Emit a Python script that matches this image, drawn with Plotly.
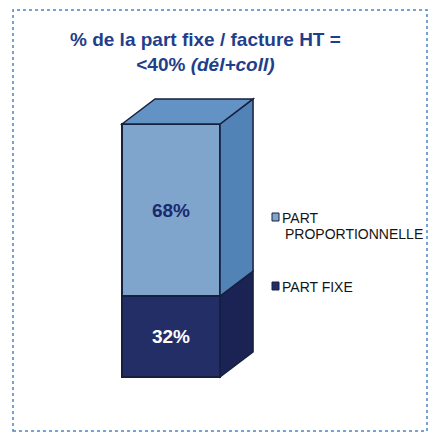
import plotly.graph_objects as go

# ---- data ----
categories = ["PART FIXE", "PART PROPORTIONNELLE"]
values = [32, 68]
front_colors = ["#232d66", "#7fa5cd"]
side_colors = ["#1a2354", "#5283b6"]
top_color = "#6393c4"
label_colors = ["#ffffff", "#1b2a6e"]
outline = "#16203f"

W, H = 428, 438
# axis ranges (bar at x=0, width 1)
x_range = [-1.745, 2.622]
y_range = [-24.1, 149.0]
depth_x = 0.337   # 3D depth in x units
depth_y = 9.9     # 3D depth in y units

fig = go.Figure()
for name, v, fc, lc in zip(categories, values, front_colors, label_colors):
    fig.add_trace(go.Bar(
        x=[0], y=[v], name=name, width=1,
        marker=dict(color=fc, line=dict(color=outline, width=1.5)),
        texttemplate="<b>%{y}%</b>", textposition="inside",
        insidetextanchor="middle", constraintext="none",
        textfont=dict(family="Liberation Sans, Arial", size=19, color=lc),
        showlegend=False, hoverinfo="skip",
    ))

shapes = []
base = 0
for v, sc in zip(values, side_colors):
    top = base + v
    path = (f"M 0.5,{base} L {0.5+depth_x},{base+depth_y} "
            f"L {0.5+depth_x},{top+depth_y} L 0.5,{top} Z")
    shapes.append(dict(type="path", xref="x", yref="y", path=path,
                       fillcolor=sc, line=dict(color=outline, width=1.5),
                       layer="above"))
    base = top
total = base
path = (f"M -0.5,{total} L {-0.5+depth_x},{total+depth_y} "
        f"L {0.5+depth_x},{total+depth_y} L 0.5,{total} Z")
shapes.append(dict(type="path", xref="x", yref="y", path=path,
                   fillcolor=top_color, line=dict(color=outline, width=1.5),
                   layer="above"))

# frame (dashed blue border)
shapes.append(dict(type="rect", xref="paper", yref="paper",
                   x0=13/W, x1=427/W, y0=1-431/H, y1=1-10/H,
                   line=dict(color="#4a84c6", width=1.5, dash="dot"),
                   fillcolor="rgba(0,0,0,0)", layer="above"))

# legend squares
leg_sq = [(272, 213, front_colors[1]), (272, 282, front_colors[0])]
for x0, y0, c in leg_sq:
    shapes.append(dict(type="rect", xref="paper", yref="paper",
                       x0=x0/W, x1=(x0+7)/W, y0=1-(y0+8)/H, y1=1-y0/H,
                       fillcolor=c, line=dict(color="#1a2040", width=1),
                       layer="above"))

leg_font = dict(family="Liberation Sans, Arial", size=14, color="#141414")
annotations = [
    dict(text="<b>% de la part fixe / facture HT =<br>&lt;40% <i>(dél+coll)</i></b>",
         xref="paper", yref="paper", x=205/W, y=1-52/H,
         xanchor="center", yanchor="middle", showarrow=False,
         font=dict(family="Liberation Sans, Arial", size=19, color="#1f3f8c")),
    dict(text="PART", xref="paper", yref="paper", x=280/W, y=1-218/H,
         xanchor="left", yanchor="middle", showarrow=False, font=leg_font),
    dict(text="PROPORTIONNELLE", xref="paper", yref="paper", x=283/W, y=1-233.5/H,
         xanchor="left", yanchor="middle", showarrow=False, font=leg_font),
    dict(text="PART FIXE", xref="paper", yref="paper", x=280/W, y=1-286.5/H,
         xanchor="left", yanchor="middle", showarrow=False, font=leg_font),
]

fig.update_layout(
    width=W, height=H, barmode="stack",
    margin=dict(l=0, r=0, t=0, b=0),
    paper_bgcolor="white", plot_bgcolor="white",
    xaxis=dict(range=x_range, visible=False, fixedrange=True),
    yaxis=dict(range=y_range, visible=False, fixedrange=True),
    shapes=shapes, annotations=annotations,
    showlegend=False,
)
fig.write_html("out.html", config={"displayModeBar": False},
               post_script="document.body.style.margin='0';")
